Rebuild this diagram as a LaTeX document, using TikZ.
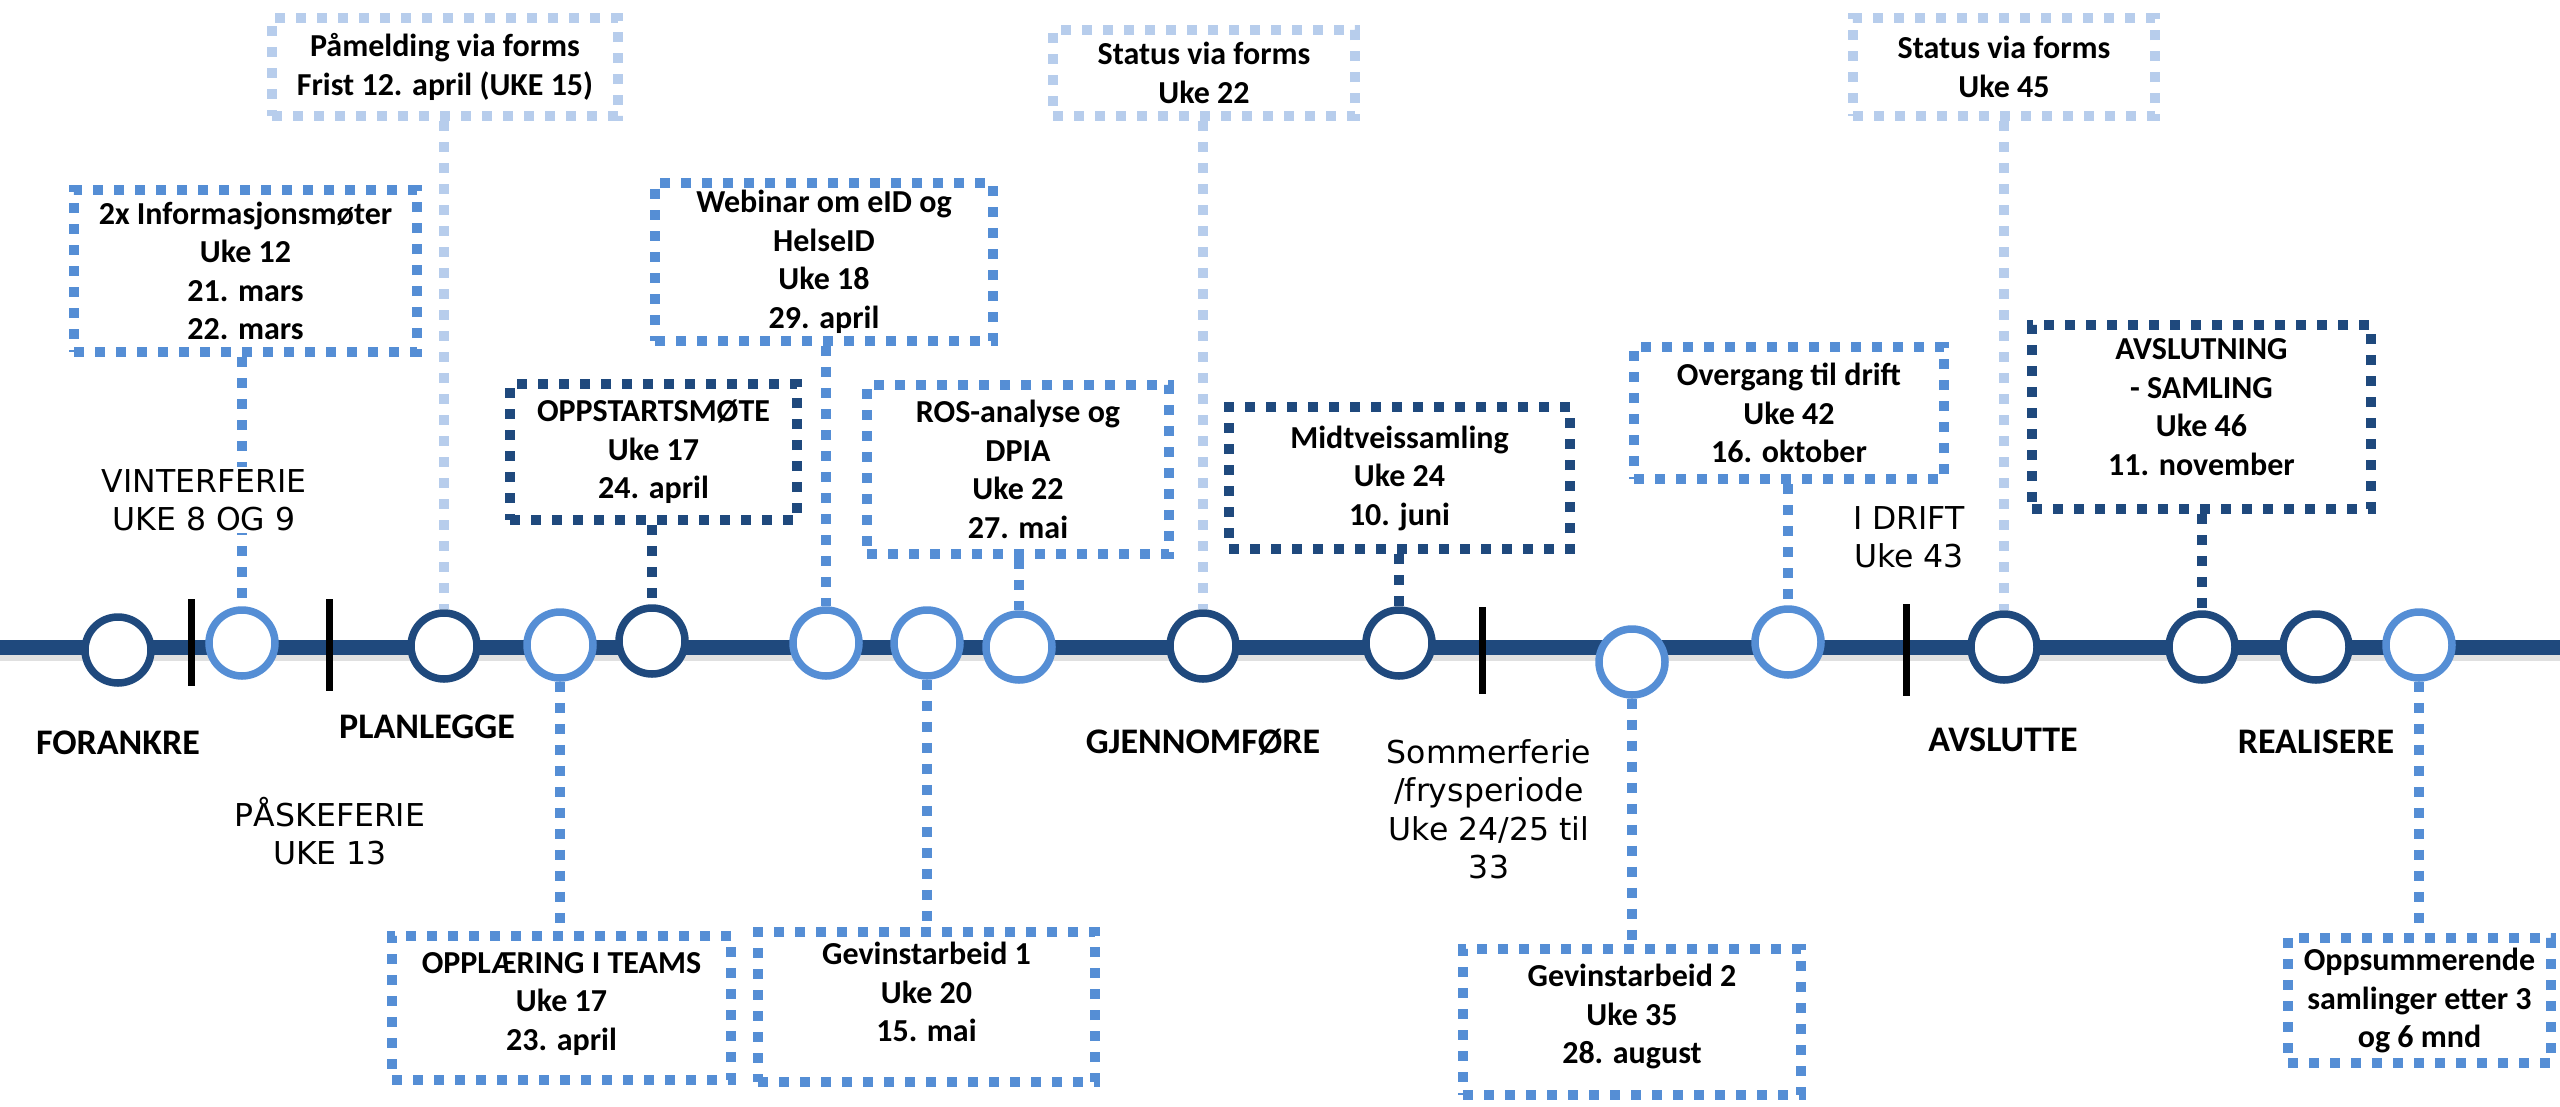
\documentclass[tikz,border=0pt]{standalone}
\usepackage{fontspec}
\setmainfont{Carlito}
\newfontfamily\lblfont{DejaVu Sans}
\definecolor{navy}{RGB}{31,73,125}
\definecolor{midblue}{RGB}{85,142,213}
\definecolor{paleblue}{RGB}{183,205,236}
\pgfdeclarelayer{back}
\pgfdeclarelayer{mid}
\pgfsetlayers{back,mid,main}

\begin{document}
\begin{tikzpicture}[x=1pt,y=-1pt,
  dotline/.style={line width=10pt, dash pattern=on 10pt off 11pt},
  evbox/.style n args={3}{draw=#1, dotline, fill=white, align=center, inner sep=0pt,
    minimum width=#2, minimum height=#3, text=black,
    font=\bfseries\fontsize{32}{38.5}\selectfont},
  milestone/.style={circle, draw=#1, fill=white, line width=7.5pt, inner sep=0pt, minimum size=66pt},
  phase/.style={font=\bfseries\fontsize{36}{40}\selectfont, text=black},
  note/.style={font=\lblfont\fontsize{31.5}{38.5}\selectfont, align=center, text=black, inner sep=2pt},
  divider/.style={line width=7pt, black},
  band/.style={line width=15pt, navy}
]
\useasboundingbox (0,0) rectangle (2560,1106);

% timeline band with its soft shadow
\coordinate (bandL) at (0,647.5);
\coordinate (bandR) at (2560,647.5);
\begin{pgfonlayer}{back}
  \draw[line width=7pt, black!12] ([yshift=-10pt]bandL) -- ([yshift=-10pt]bandR);
  \draw[band] (bandL) -- (bandR);
\end{pgfonlayer}

% milestones
\node[milestone=navy]    (c1)  at (118,650) {};
\node[milestone=midblue] (c2)  at (242,643) {};
\node[milestone=navy]    (c3)  at (444,646) {};
\node[milestone=midblue] (c4)  at (560,645) {};
\node[milestone=navy]    (c5)  at (652,641) {};
\node[milestone=midblue] (c6)  at (826,643) {};
\node[milestone=midblue] (c7)  at (927,643) {};
\node[milestone=midblue] (c8)  at (1019,647) {};
\node[milestone=navy]    (c9)  at (1203,646) {};
\node[milestone=navy]    (c10) at (1399,643) {};
\node[milestone=midblue] (c11) at (1632,662) {};
\node[milestone=midblue] (c12) at (1788,642) {};
\node[milestone=navy]    (c13) at (2004,647) {};
\node[milestone=navy]    (c14) at (2202,647) {};
\node[milestone=navy]    (c15) at (2316,647) {};
\node[milestone=midblue] (c16) at (2419,645) {};

% holiday dividers
\coordinate (d1t) at (191,599);  \coordinate (d1b) at (191,686);
\coordinate (d2t) at (329,599);  \coordinate (d2b) at (329,691);
\coordinate (d3t) at (1482,607); \coordinate (d3b) at (1482,694);
\coordinate (d4t) at (1906,604); \coordinate (d4b) at (1906,696);
\draw[divider] (d1t) -- (d1b);
\draw[divider] (d2t) -- (d2b);
\draw[divider] (d3t) -- (d3b);
\draw[divider] (d4t) -- (d4b);

% event boxes above the line
\node[evbox={paleblue}{346pt}{98pt}] (pamelding) at (445,67)
  {Påmelding via forms\\Frist 12. april (UKE 15)};
\node[evbox={midblue}{343pt}{162pt}] (info) at (245.5,271)
  {2x Informasjonsmøter\\Uke 12\\21. mars\\22. mars};
\node[evbox={midblue}{338pt}{158pt}] (webinar) at (824,262)
  {Webinar om eID og\\HelseID\\Uke 18\\29. april};
\node[evbox={navy}{287pt}{136pt}] (oppstart) at (653.5,452)
  {OPPSTARTSMØTE\\Uke 17\\24. april};
\node[evbox={midblue}{302pt}{169pt}] (ros) at (1018,469.5)
  {ROS-analyse og\\DPIA\\Uke 22\\27. mai};
\node[evbox={paleblue}{302pt}{86pt}] (status1) at (1204,73)
  {Status via forms\\Uke 22};
\node[evbox={navy}{341pt}{142pt}] (midtveis) at (1399.5,478)
  {Midtveissamling\\Uke 24\\10. juni};
\node[evbox={midblue}{310pt}{132pt}] (overgang) at (1789,413)
  {Overgang til drift\\Uke 42\\16. oktober};
\node[evbox={paleblue}{302pt}{98pt}] (status2) at (2004,67)
  {Status via forms\\Uke 45};
\node[evbox={navy}{339pt}{184pt}, text depth=20pt] (avslutning) at (2201.5,417)
  {AVSLUTNING\\- SAMLING\\Uke 46\\11. november};

% event boxes below the line
\node[evbox={midblue}{339pt}{144pt}, text depth=14pt] (teams) at (561.5,1008)
  {OPPLÆRING I TEAMS\\Uke 17\\23. april};
\node[evbox={midblue}{337pt}{150pt}, text depth=30pt] (gevinst1) at (926.5,1007)
  {Gevinstarbeid 1\\Uke 20\\15. mai};
\node[evbox={midblue}{338pt}{146pt}, text depth=16pt] (gevinst2) at (1632,1022)
  {Gevinstarbeid 2\\Uke 35\\28. august};
\node[evbox={midblue}{263pt}{125pt}] (oppsum) at (2419.5,1000.5)
  {Oppsummerende\\samlinger etter 3\\og 6 mnd};

% dotted connectors from boxes to milestones
\begin{pgfonlayer}{mid}
  \draw[dotline, midblue]  (c2.north  |- info.south)       -- (c2.north);
  \draw[dotline, paleblue] (c3.north  |- pamelding.south)  -- (c3.north);
  \draw[dotline, navy]     (c5.north  |- oppstart.south)   -- (c5.north);
  \draw[dotline, midblue]  (c6.north  |- webinar.south)    -- (c6.north);
  \draw[dotline, midblue]  (c8.north  |- ros.south)        -- (c8.north);
  \draw[dotline, paleblue] (c9.north  |- status1.south)    -- (c9.north);
  \draw[dotline, navy]     (c10.north |- midtveis.south)   -- (c10.north);
  \draw[dotline, midblue]  (c12.north |- overgang.south)   -- (c12.north);
  \draw[dotline, paleblue] (c13.north |- status2.south)    -- (c13.north);
  \draw[dotline, navy]     (c14.north |- avslutning.south) -- (c14.north);
  \draw[dotline, midblue]  (c4.south)  -- (c4.south  |- teams.north);
  \draw[dotline, midblue]  (c7.south)  -- (c7.south  |- gevinst1.north);
  \draw[dotline, midblue]  (c11.south) -- (c11.south |- gevinst2.north);
  \draw[dotline, midblue]  (c16.south) -- (c16.south |- oppsum.north);
\end{pgfonlayer}

% phase names
\node[phase] (forankre)  at (118,743)  {FORANKRE};
\node[phase] (planlegge) at (427,727)  {PLANLEGGE};
\node[phase] (gjennom)   at (1203,742) {GJENNOMFØRE};
\node[phase] (avslutte)  at (2003,740) {AVSLUTTE};
\node[phase] (realisere) at (2316,742) {REALISERE};

% holiday and operation notes
\node[note, fill=white] (vinter) at (204,500) {VINTERFERIE\\UKE 8 OG 9};
\node[note] (paske)  at (330,831)  {PÅSKEFERIE\\UKE 13};
\node[note] (sommer) at (1489,809) {Sommerferie\\/frysperiode\\Uke 24/25 til\\33};
\node[note] (idrift) at (1909,537) {I DRIFT\\Uke 43};
\end{tikzpicture}
\end{document}
